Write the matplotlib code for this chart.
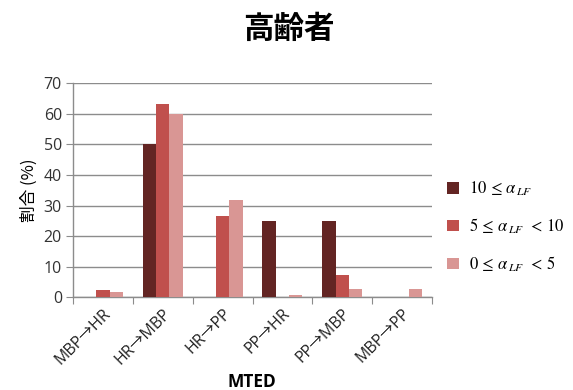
import matplotlib
matplotlib.use("Agg")
import matplotlib.pyplot as plt
import numpy as np

plt.rcParams['font.family'] = ['Open Sans', 'Noto Sans CJK JP', 'DejaVu Sans']
plt.rcParams['mathtext.fontset'] = 'stix'

categories = ["MBP→HR", "HR→MBP", "HR→PP", "PP→HR", "PP→MBP", "MBP→PP"]
series_labels = [r"$10\,\leq\,\alpha_{\,LF}$",
                 r"$5\,\leq\,\alpha_{\,LF}\ \,<\,10$",
                 r"$0\,\leq\,\alpha_{\,LF}\ \,<\,5$"]
high = [0, 50.0, 0, 25.0, 25.0, 0]
mid = [2.3, 63.3, 26.7, 0, 7.2, 0]
low = [1.8, 60.0, 31.8, 0.8, 2.6, 2.6]
colors = ["#632523", "#C0504D", "#D99694"]

fig = plt.figure(figsize=(5.73, 3.9), dpi=100)
ax = fig.add_axes([0.1274, 0.2377, 0.6266, 0.5487])

x = np.arange(len(categories))
w = 0.223
for i, (vals, lab, c) in enumerate(zip([high, mid, low], series_labels, colors)):
    ax.bar(x + (i - 1) * w, vals, width=w, color=c, label=lab, zorder=3)

ax.set_xlim(-0.5, len(categories) - 0.5)
ax.set_ylim(0, 70)
ax.set_yticks(range(0, 71, 10))
ax.yaxis.grid(True, color="#8c8c8c", linewidth=1.0, zorder=0)

for s in ["top", "right"]:
    ax.spines[s].set_visible(False)
for s in ["left", "bottom"]:
    ax.spines[s].set_color("#8c8c8c")
    ax.spines[s].set_linewidth(1.0)

ax.set_xticks(np.arange(-0.5, len(categories), 1.0))
ax.set_xticklabels([])
ax.set_xticks(x, minor=True)
ax.set_xticklabels(categories, minor=True, rotation=45, ha="right",
                   rotation_mode="anchor", fontsize=11.5, color="#222222")
ax.tick_params(axis="x", which="major", length=5, color="#8c8c8c", direction="out")
ax.tick_params(axis="x", which="minor", length=0, pad=6)
ax.tick_params(axis="y", length=5, color="#8c8c8c", labelsize=11.5,
               labelcolor="#333333", pad=3)

ax.set_ylabel("割合 (%)", fontsize=12, family=["Noto Sans CJK JP"], labelpad=4)

fig.text(0.44, 0.02, "MTED", ha="center", va="center", fontsize=12.5,
         fontweight="bold")
fig.text(0.505, 0.925, "高齢者", ha="center", va="center", fontsize=22,
         fontweight="bold", family=["Noto Sans CJK JP"])

leg = ax.legend(loc="center left", bbox_to_anchor=(1.0, 0.33), frameon=False,
                handlelength=0.7, handleheight=0.7, handletextpad=0.6,
                labelspacing=1.1, prop={"family": "Liberation Serif", "size": 12})

fig.savefig("out.png", dpi=100)
